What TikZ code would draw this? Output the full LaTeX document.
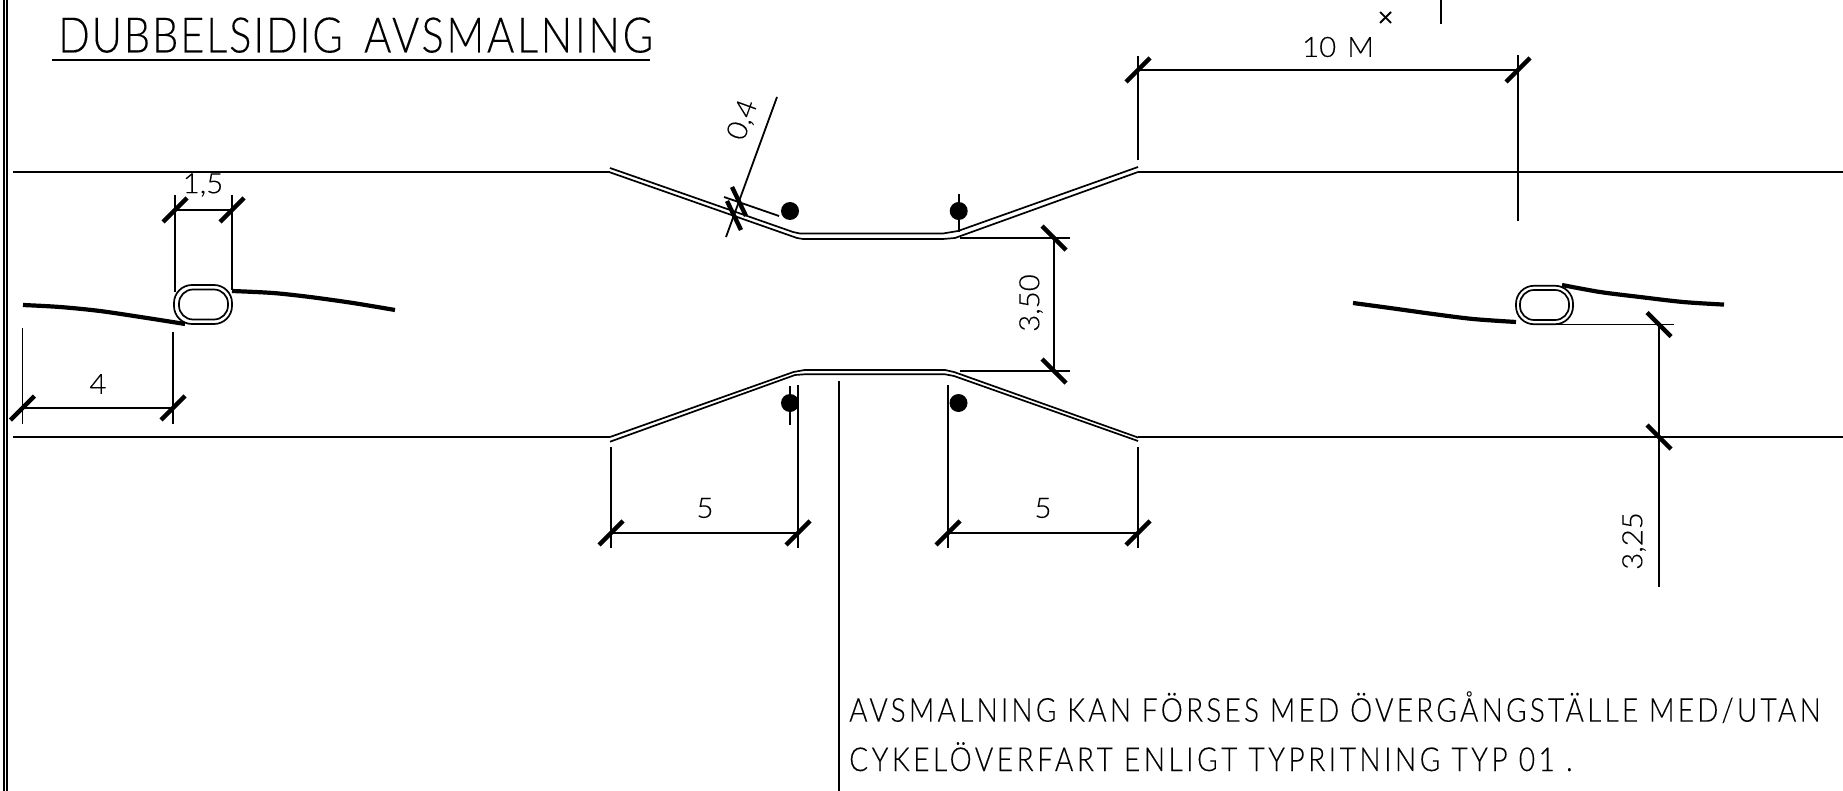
\documentclass[tikz,border=0pt]{standalone}
\usepackage{fontspec}
\newfontfamily\isofont[FakeStretch=0.85,FakeBold=0.15]{Lato Light}
\newfontfamily\dimfont[FakeStretch=1.05,FakeBold=0.2]{Lato Light}
\tikzset{
  thin line/.style={draw=black,line width=1.8pt},
  kerbline/.style={draw=black,line width=1.7pt,line join=round},
  thickline/.style={draw=black,line width=4.2pt,line join=round},
  tickmark/.style={draw=black,line width=4.4pt},
  dimtext/.style={inner sep=0pt,font=\dimfont\fontsize{28}{28}\selectfont},
  notetext/.style={inner sep=0pt,anchor=base west,font=\isofont\fontsize{33}{33}\selectfont},
  island/.style={draw=black,line width=1.7pt,rectangle,rounded corners=18pt,inner sep=0pt},
  blob/.style={circle,fill=black,inner sep=0pt,minimum size=18pt}
}
\begin{document}
\begin{tikzpicture}[x=1pt,y=-1pt]
  \useasboundingbox (0,0) rectangle (1843,791);
  % points
  \coordinate (tl) at (13,172);
  \coordinate (tm) at (610,172);
  \coordinate (tn) at (1138,172);
  \coordinate (tr) at (1843,172);
  \coordinate (bl) at (13,437);
  \coordinate (bm) at (610,437);
  \coordinate (bn) at (1138,437);
  \coordinate (br) at (1843,437);
  % frame
  \draw[thin line] (4,0) -- (4,791);
  \draw[thin line] (7,0) -- (7,791);
  % title
  \node[inner sep=0pt,anchor=base west,font=\isofont\fontsize{49}{49}\selectfont] (title) at (58,52.5) {\addfontfeature{LetterSpace=3.8}DUBBELSIDIG\hspace{8pt} {\addfontfeature{LetterSpace=5.5}AVSMALNING}};
  \coordinate (ula) at (52,60);
  \coordinate (ulb) at (650,60);
  \draw[thin line] (ula) -- (ulb);
  % road
  \draw[thin line] (tl) -- (tm);
  \draw[thin line] (tn) -- (tr);
  \draw[thin line] (bl) -- (bm);
  \draw[thin line] (bn) -- (br);
  \draw[kerbline] (610,168) -- (793,232) -- (800,233.5) -- (943,233.5) -- (958,231) -- (1138,167);
  \draw[kerbline] (609,172) -- (797,238) -- (803,239) -- (943,239) -- (955,238) -- (1138,172);
  \draw[kerbline] (610,437) -- (793.5,372) -- (804.6,370) -- (945,370) -- (954,372) -- (1138,437.5);
  \draw[kerbline] (610,441.7) -- (795,375) -- (804.6,374.3) -- (945,374.3) -- (954,376) -- (1138,441);
  % left island
  \node[island,minimum width=58pt,minimum height=39pt] (oa) at (203,304.5) {};
  \node[island,minimum width=49pt,minimum height=30pt,rounded corners=14pt] (ia) at (203.5,304.5) {};
  \draw[thickline] plot[smooth] coordinates {(23,305) (60,307) (100,311) (147,318) (185,324)};
  \draw[thickline] plot[smooth] coordinates {(232,291) (273,293) (310,297) (353,303) (395,310)};
  % right island
  \node[island,minimum width=57pt,minimum height=38.5pt] (ob) at (1544.5,305) {};
  \node[island,minimum width=49pt,minimum height=30pt,rounded corners=14pt] (ib) at (1544.5,305) {};
  \draw[thickline] plot[smooth] coordinates {(1353,303) (1390,308) (1433,314) (1473,319) (1516,322)};
  \draw[thickline] plot[smooth] coordinates {(1562,285) (1600,292) (1640,297) (1683,302) (1724,304.6)};
  % dots
  \node[blob] (d1) at (790,211) {};
  \node[blob] (d2) at (958.7,211) {};
  \node[blob] (d3) at (790,403) {};
  \node[blob] (d4) at (958.5,403) {};
  \draw[thin line] (958.7,194) -- (958.7,232);
  \draw[thin line] (790,386) -- (790,425);
  % 1,5
  \coordinate (a1) at (175,210);
  \coordinate (a2) at (232,210);
  \draw[thin line] (175,195) -- (175,292);
  \draw[thin line] (232,195) -- (232,290);
  \draw[thin line] (a1) -- (a2);
  \draw[tickmark] (a1) +(-12,12) -- +(12,-12);
  \draw[tickmark] (a2) +(-12,12) -- +(12,-12);
  \node[dimtext] (t15) at (203,185) {1,5};
  % 4
  \coordinate (b1) at (22.5,408);
  \coordinate (b2) at (173,408);
  \draw[thin line] (22.5,328) -- (22.5,424);
  \draw[thin line] (173,332) -- (173,424);
  \draw[thin line] (b1) -- (b2);
  \draw[tickmark] (b1) +(-12,12) -- +(12,-12);
  \draw[tickmark] (b2) +(-12,12) -- +(12,-12);
  \node[dimtext] (t4) at (98,384) {4};
  % 5 left
  \coordinate (c1) at (611,533);
  \coordinate (c2) at (798,533);
  \draw[thin line] (611,447) -- (611,548);
  \draw[thin line] (798,385) -- (798,548);
  \draw[thin line] (c1) -- (c2);
  \draw[tickmark] (c1) +(-12,12) -- +(12,-12);
  \draw[tickmark] (c2) +(-12,12) -- +(12,-12);
  \node[dimtext] (t5a) at (705,508) {5};
  % 5 right
  \coordinate (e1) at (948,533);
  \coordinate (e2) at (1138,533);
  \draw[thin line] (948,385) -- (948,548);
  \draw[thin line] (1138,447) -- (1138,548);
  \draw[thin line] (e1) -- (e2);
  \draw[tickmark] (e1) +(-12,12) -- +(12,-12);
  \draw[tickmark] (e2) +(-12,12) -- +(12,-12);
  \node[dimtext] (t5b) at (1043,508) {5};
  % 0,4
  \draw[thin line] (777,97) -- (726,237);
  \draw[thin line] (724,197) -- (779,216);
  \draw[tickmark] (732,187) -- (746,216);
  \draw[tickmark] (727,201) -- (741,230);
  \node[dimtext,rotate=70] (t04) at (743,120) {0,4};
  % 3,50
  \coordinate (f1) at (1054,238);
  \coordinate (f2) at (1054,371);
  \draw[thin line] (960,238) -- (1070,238);
  \draw[thin line] (960,371) -- (1070,371);
  \draw[thin line] (f1) -- (f2);
  \draw[tickmark] (f1) +(-12,-12) -- +(12,12);
  \draw[tickmark] (f2) +(-12,-12) -- +(12,12);
  \node[dimtext,rotate=90] (t350) at (1031,303) {3,50};
  % 10 M
  \coordinate (g1) at (1138,70);
  \coordinate (g2) at (1518,70);
  \draw[thin line] (1138,56) -- (1138,160);
  \draw[thin line] (1518,55) -- (1518,221);
  \draw[thin line] (g1) -- (g2);
  \draw[tickmark] (g1) +(-12,12) -- +(12,-12);
  \draw[tickmark] (g2) +(-12,12) -- +(12,-12);
  \node[dimtext] (t10) at (1338,47) {10\hspace{11pt}M};
  \draw[thin line] (1380,12) -- (1391,23);
  \draw[thin line] (1380,23) -- (1391,12);
  \draw[draw=black,line width=2.5pt] (1441,0) -- (1441,24.5);
  % 3,25
  \coordinate (h1) at (1659,324.5);
  \coordinate (h2) at (1659,437);
  \draw[thin line] (1558,324.5) -- (1674,324.5);
  \draw[thin line] (1558,437) -- (1674,437);
  \draw[thin line] (1659,324.5) -- (1659,587);
  \draw[tickmark] (h1) +(-12,-12) -- +(12,12);
  \draw[tickmark] (h2) +(-12,-12) -- +(12,12);
  \node[dimtext,rotate=90] (t325) at (1634,541) {3,25};
  % note
  \coordinate (n1) at (839,381);
  \coordinate (n2) at (839,791);
  \draw[thin line] (n1) -- (n2);
  \node[notetext] (note1) at (849,721.7) {\addfontfeature{LetterSpace=9.7}AVSMALNING KAN FÖRSES MED ÖVERGÅNGSTÄLLE MED/UTAN};
  \node[notetext] (note2) at (849,771) {\addfontfeature{LetterSpace=10.7}CYKELÖVERFART ENLIGT TYPRITNING TYP 01 .};
\end{tikzpicture}
\end{document}
